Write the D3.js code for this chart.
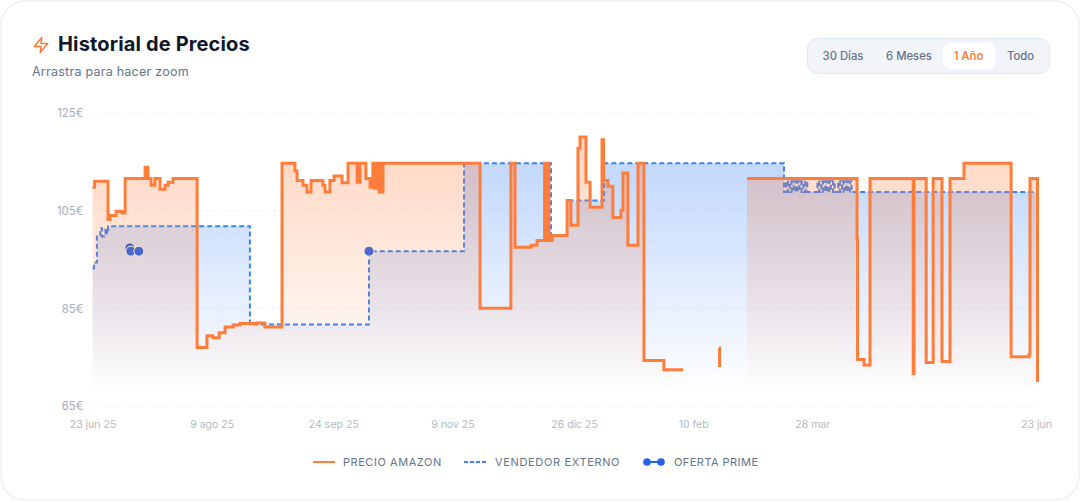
<!DOCTYPE html>
<html lang="es">
<head>
<meta charset="utf-8">
<title>Historial de Precios</title>
<script src="https://cdn.jsdelivr.net/npm/d3@7"></script>
<style>
  html, body { margin: 0; padding: 0; background: #fff; overflow: hidden; }
  svg { display: block; font-family: Inter, sans-serif; }
</style>
</head>
<body>
<div id="chart"></div>
<script>
'use strict';

// sample index along the x axis, price in euro (null = no offer)
const amazonIdx = [0, 0.8, 6, 6.8, 9.1, 11.4, 12.6, 20.3, 21.4, 22.6, 24.1, 26.1, 28, 29.2, 31.1, 40.4, 44.2, 46.5, 48.9, 51.2, 54.3, 57, 63.5, 66.6, 73.2, 78.2, 79, 81.3, 82.8, 84.4, 89, 89.8, 91.7, 93.3, 96.4, 98.7, 102.2, 103.3, 105.6, 107.2, 108.3, 109.1, 109.5, 109.9, 110.3, 110.7, 111, 111.4, 112.2, 149.7, 161.6, 163.2, 169.4, 171.7, 174.6, 175.1, 175.5, 175.9, 176.1, 176.3, 177.5, 183.3, 184.8, 187.5, 188.3, 190.6, 192.2, 196.8, 197.4, 199.1, 201, 204.1, 204.9, 206.8, 210.7, 213, 220.7, 228.1, 228.2, 242, 242.2, 242.4, 252.8, 295.3, 295.5, 298, 300.3, 317, 317.3, 322, 324.7, 328.1, 331.2, 336.6, 354.8, 361.7, 362.1, 365];
const amazonPrice = [109.8, 111, 103.2, 104, 104.9, 104.5, 111.6, 113.9, 111.6, 110.2, 111.6, 109.4, 110.2, 110.8, 111.6, 77, 79.4, 79, 80, 81.2, 81.6, 81.9, 82, 81.2, 114.7, 113.1, 111.2, 110.2, 108.8, 111.2, 110.2, 108.8, 111.2, 112.1, 110.7, 114.7, 110.8, 114.7, 111.6, 109.8, 114.7, 109.6, 114.7, 109.6, 114.7, 108.8, 114.7, 108.8, 114.7, 85, 114.7, 97.5, 97.9, 98.9, 114.7, 98.9, 114.7, 98.9, 114.7, 98.9, 99.9, 107.1, 102, 117.8, 120.1, 110.8, 105.7, 119.5, 111.2, 110, 103.6, 105.1, 112.7, 97.9, 114.7, 74.3, 72.4, 72.4, null, 76.9, 73, null, 111.6, 99.3, 74.5, 73.4, 111.6, 71.6, 111.6, 73.9, 111.6, 74.1, 111.6, 114.7, 75.1, 75.5, 111.6, 69.9];

const sellerIdx = [0, 0.6, 1.7, 3, 3.7, 4.4, 5, 5.6, 6, 60.8, 106.8, 143.5, 177.1, 183.3, 197.6, 267.1, 267.8, 268.6, 269.3, 270.1, 270.8, 271.6, 272.3, 273.1, 273.8, 274.6, 275.3, 276.1, 276.8, 280, 280.7, 281.5, 282.2, 283, 283.7, 284.5, 285.2, 286, 286.7, 288, 288.7, 289.5, 290.2, 291, 291.7, 292.5, 293.2, 365];
const sellerPrice = [93.2, 94.4, 99.7, 101.4, 99.7, 100.3, 101.4, 100.3, 101.8, 81.7, 96.7, 114.7, 99.9, 107.1, 114.7, 108.8, 111, 108.8, 111, 108.8, 111, 108.8, 111, 108.8, 111, 108.8, 111, 108.8, 108.8, 111, 108.8, 111, 108.8, 111, 108.8, 111, 108.8, 111, 108.8, 111, 108.8, 111, 108.8, 111, 108.8, 111, 108.8, 108.8];

const primeIdx = [14.4, 14.8, 17.9, 106.8];
const primePrice = [97.4, 96.7, 96.7, 96.7];

const yTicks = [65, 85, 105, 125];
const xTickIdx = [0, 46, 93, 139, 186, 232, 278, 365];
const xTickLabels = ['23 jun 25', '9 ago 25', '24 sep 25', '9 nov 25', '26 dic 25', '10 feb', '28 mar', '23 jun'];
const ranges = ['30 Días', '6 Meses', '1 Año', 'Todo'];

const ORANGE = '#ff7d3b';
const BLUE = '#3b82f6';
const PRIME = '#2563eb';

const width = 1081, height = 501;
const margin = { top: 113, right: 43.5, bottom: 95, left: 92.5 };

const svg = d3.select('#chart').append('svg')
    .attr('width', width)
    .attr('height', height);

svg.append('rect')
    .attr('x', 1).attr('y', 1)
    .attr('width', width - 3).attr('height', height - 2)
    .attr('rx', 24)
    .attr('fill', '#fff')
    .attr('stroke', '#eff1f4')
    .attr('stroke-width', 1.5);

const x = d3.scaleLinear().domain([0, 365]).range([margin.left, width - margin.right]);
const y = d3.scaleLinear().domain([65, 125]).range([height - margin.bottom, margin.top]);

// gradients for the areas
const defs = svg.append('defs');
function addGradient(id, color) {
  const g = defs.append('linearGradient')
      .attr('id', id)
      .attr('x1', 0).attr('y1', 0).attr('x2', 0).attr('y2', 1);
  g.append('stop').attr('offset', '5%').attr('stop-color', color).attr('stop-opacity', 0.3);
  g.append('stop').attr('offset', '95%').attr('stop-color', color).attr('stop-opacity', 0);
}
addGradient('fillAmazon', ORANGE);
addGradient('fillSeller', BLUE);

// grid
svg.append('g').selectAll('line')
    .data(yTicks)
    .join('line')
    .attr('x1', x(0)).attr('x2', x(365))
    .attr('y1', d => y(d)).attr('y2', d => y(d))
    .attr('stroke', '#eef0f3')
    .attr('stroke-dasharray', '3 3');

// axes
const yAxis = svg.append('g')
    .attr('transform', `translate(${margin.left - 1},0)`)
    .call(d3.axisLeft(y).tickValues(yTicks).tickSize(0).tickPadding(8).tickFormat(d => `${d}€`));
const xAxis = svg.append('g')
    .attr('transform', `translate(0,${height - margin.bottom})`)
    .call(d3.axisBottom(x).tickValues(xTickIdx).tickSize(0).tickPadding(15)
      .tickFormat((d, i) => xTickLabels[i]));
yAxis.select('.domain').remove();
xAxis.select('.domain').remove();
yAxis.selectAll('text').attr('fill', '#a8aeb9').attr('font-size', 11.5).attr('font-family', 'Inter, sans-serif');
xAxis.selectAll('text').attr('fill', '#b4b9c3').attr('font-size', 10.5).attr('font-family', 'Inter, sans-serif');
xAxis.selectAll('.tick').filter((d, i) => i === xTickIdx.length - 1)
    .select('text').attr('dx', -1.5);

function toRows(idx, values) {
  return idx.map((d, i) => ({ i: d, v: values[i] }));
}
const amazonRows = toRows(amazonIdx, amazonPrice);
const sellerRows = toRows(sellerIdx, sellerPrice);
const primeRows = toRows(primeIdx, primePrice);

const line = d3.line()
    .defined(d => d.v !== null)
    .curve(d3.curveStepAfter)
    .x(d => x(d.i))
    .y(d => y(d.v));
const area = d3.area()
    .defined(d => d.v !== null)
    .curve(d3.curveStepAfter)
    .x(d => x(d.i))
    .y0(y(65))
    .y1(d => y(d.v));

// seller first, amazon sits on top of it
svg.append('path').datum(sellerRows).attr('d', area).attr('fill', 'url(#fillSeller)');
svg.append('path').datum(sellerRows).attr('d', line)
    .attr('fill', 'none')
    .attr('stroke', BLUE)
    .attr('stroke-width', 2)
    .attr('stroke-dasharray', '5 3');

svg.append('g').selectAll('circle')
    .data(primeRows)
    .join('circle')
    .attr('cx', d => x(d.i))
    .attr('cy', d => y(d.v))
    .attr('r', 5)
    .attr('fill', PRIME)
    .attr('stroke', '#fff')
    .attr('stroke-width', 1);

svg.append('path').datum(amazonRows).attr('d', area).attr('fill', 'url(#fillAmazon)');
svg.append('path').datum(amazonRows).attr('d', line)
    .attr('fill', 'none')
    .attr('stroke', ORANGE)
    .attr('stroke-width', 3);

// header
svg.append('path')
    .attr('transform', 'translate(32,36) scale(0.75)')
    .attr('d', 'M13 2 3 14h9l-1 8 10-12h-9l1-8z')
    .attr('fill', 'none')
    .attr('stroke', ORANGE)
    .attr('stroke-width', 2)
    .attr('stroke-linejoin', 'round')
    .attr('stroke-linecap', 'round');

svg.append('text')
    .attr('x', 58).attr('y', 51)
    .attr('font-size', 20)
    .attr('font-weight', 700)
    .attr('letter-spacing', 0.15)
    .attr('fill', '#0f172a')
    .text('Historial de Precios');

svg.append('text')
    .attr('x', 32).attr('y', 76)
    .attr('font-size', 12.5)
    .attr('letter-spacing', 0.25)
    .attr('fill', '#64748b')
    .text('Arrastra para hacer zoom');

// range selector
svg.append('rect')
    .attr('x', 807.5).attr('y', 38.5)
    .attr('width', 242).attr('height', 35)
    .attr('rx', 10)
    .attr('fill', '#f1f5f9')
    .attr('stroke', '#e2e8f0');
svg.append('rect')
    .attr('x', 943).attr('y', 43)
    .attr('width', 52).attr('height', 26)
    .attr('rx', 7)
    .attr('fill', '#fff');
const rangeX = [843, 909, 968.5, 1020.5];
svg.append('g').selectAll('text')
    .data(ranges)
    .join('text')
    .attr('x', (d, i) => rangeX[i])
    .attr('y', 60)
    .attr('text-anchor', 'middle')
    .attr('font-size', 11.3)
    .attr('font-weight', d => d === '1 Año' ? 600 : 500)
    .attr('fill', d => d === '1 Año' ? ORANGE : '#64748b')
    .text(d => d);

// legend
const legend = svg.append('g').attr('transform', 'translate(0,462)');
legend.append('line')
    .attr('x1', 313).attr('x2', 335)
    .attr('stroke', ORANGE).attr('stroke-width', 2);
legend.append('line')
    .attr('x1', 464).attr('x2', 486)
    .attr('stroke', BLUE).attr('stroke-width', 2)
    .attr('stroke-dasharray', '4 2');
legend.append('line')
    .attr('x1', 647).attr('x2', 661)
    .attr('stroke', PRIME).attr('stroke-width', 2);
[647, 661].forEach(cx => {
  legend.append('circle').attr('cx', cx).attr('r', 3.8).attr('fill', PRIME);
});
[['PRECIO AMAZON', 343, 0.55], ['VENDEDOR EXTERNO', 495, 0.65], ['OFERTA PRIME', 674, 0.45]].forEach(([t, tx, ls]) => {
  legend.append('text')
      .attr('x', tx).attr('y', 4)
      .attr('font-size', 11)
      .attr('letter-spacing', ls)
      .attr('fill', '#64748b')
      .text(t);
});
</script>
</body>
</html>
